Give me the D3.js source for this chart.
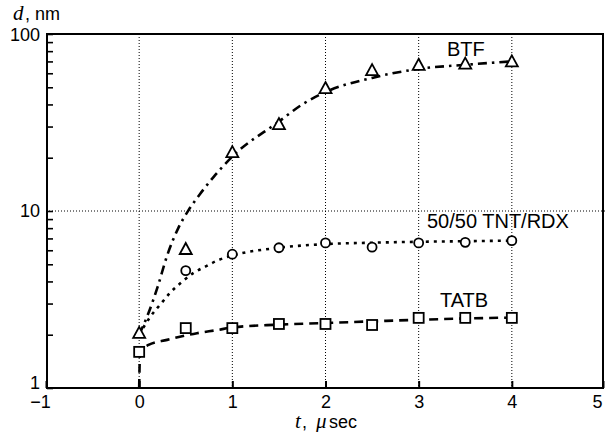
<!DOCTYPE html>
<html>
<head>
<meta charset="utf-8">
<script src="https://cdn.jsdelivr.net/npm/d3@7"></script>
<style>
    body { margin: 0; background: #fff; }
    .tick text { font-family: "Liberation Sans", Arial, sans-serif; font-size: 18px; }
    .grid line { stroke: #000; stroke-width: 1; stroke-dasharray: 1,2; }
    .fit { fill: none; stroke: #000; stroke-width: 2.6; }
    .mark { fill: #fff; stroke: #000; stroke-width: 1.8; }
    .label { font-family: "Liberation Sans", Arial, sans-serif; font-size: 20px; }
    .sans { font-family: "Liberation Sans", Arial, sans-serif; font-size: 18px; }
    .ital { font-family: "Liberation Serif", serif; font-style: italic; font-size: 21px; }
</style>
</head>
<body>
<div id="graph"></div>
<script>
/*
    d(t) on a log axis, three explosives
*/

// measured points
var btfT  = [0, 0.5, 1, 1.5, 2, 2.5, 3, 3.5, 4],
    btfD  = [2.05, 6.1, 21.5, 31, 49.5, 62.5, 67, 68, 70]
var tntT  = [0.5, 1, 1.5, 2, 2.5, 3, 3.5, 4],
    tntD  = [4.6, 5.7, 6.2, 6.6, 6.25, 6.6, 6.65, 6.8]
var tatbT = [0, 0.5, 1, 1.5, 2, 2.5, 3, 3.5, 4],
    tatbD = [1.6, 2.18, 2.18, 2.3, 2.3, 2.27, 2.49, 2.49, 2.49]

// fitted curves as [t, d]
var btfFit  = [[0, 2.0], [0.1, 2.65], [0.2, 3.75], [0.3, 5.6], [0.42, 8.0], [0.53, 10.1],
               [0.65, 12.4], [0.8, 15.6], [1, 20.3], [1.5, 32], [1.75, 40], [2, 47],
               [2.5, 56.5], [3, 63.5], [3.5, 67], [4, 70]]
var tntFit  = [[0, 2.0], [0.12, 2.53], [0.24, 3.02], [0.33, 3.44], [0.46, 3.98], [0.58, 4.46],
               [0.71, 4.85], [0.85, 5.28], [1, 5.6], [1.5, 6.2], [2, 6.5], [2.5, 6.62],
               [3, 6.7], [3.5, 6.75], [4, 6.8]]
var tatbFit = [[0, 1.0], [0.01, 1.6], [0.1, 1.75], [0.3, 1.87], [0.62, 2.04], [0.85, 2.13],
               [1, 2.2], [1.5, 2.28], [2, 2.33], [2.5, 2.38], [3, 2.43], [3.5, 2.47], [4, 2.5]]

var xTicks = [-1, 0, 1, 2, 3, 4, 5]
var yTicks = [1, 2, 3, 4, 5, 6, 7, 8, 9, 10, 20, 30, 40, 50, 60, 70, 80, 90, 100]
var yLabels = [1, 10, 100]

var width = 605, height = 432

var svg = d3.select("#graph").append("svg")
            .attr("width", width)
            .attr("height", height)

var x = d3.scaleLinear().domain([-1, 5]).range([46, 605]),
    y = d3.scaleLog().domain([1, 100]).range([388, 34])

// grid
var grid = svg.append("g").attr("class", "grid")
grid.selectAll("line.v")
    .data([0, 1, 2, 3, 4])
    .enter().append("line")
    .attr("x1", function(d) { return x(d) }).attr("x2", function(d) { return x(d) })
    .attr("y1", y(100)).attr("y2", y(1))
grid.append("line")
    .attr("x1", x(-1)).attr("x2", x(5))
    .attr("y1", y(10)).attr("y2", y(10))

// axes
var xAxis = svg.append("g")
    .attr("transform", "translate(0," + y(1) + ")")
    .call(d3.axisBottom(x).tickValues(xTicks).tickSize(-7).tickPadding(7)
            .tickFormat(function(d) { return d < 0 ? "\u22121" : d }))
xAxis.select(".domain").remove()
xAxis.selectAll(".tick line").attr("stroke-width", 2)
xAxis.selectAll(".tick text")
    .attr("dx", function(d) { return d == -1 ? -6 : (d == 5 ? -8 : 0) })

var yAxis = svg.append("g")
    .attr("transform", "translate(" + 47 + ",0)")
    .call(d3.axisLeft(y).tickValues(yTicks).tickSize(-6).tickPadding(7)
            .tickFormat(function(d) { return yLabels.indexOf(d) >= 0 ? d : "" }))
yAxis.select(".domain").remove()
yAxis.selectAll(".tick line").attr("stroke-width", 1.6)
yAxis.selectAll(".tick text")
    .attr("dy", function(d) { return d == 1 ? "0.0em" : (d == 100 ? "0.36em" : "0.28em") })

// frame
svg.append("rect")
    .attr("x", 47).attr("y", y(100))
    .attr("width", 603 - 47).attr("height", y(1) - y(100))
    .attr("fill", "none").attr("stroke", "#000").attr("stroke-width", 2)

// curves
var line = d3.line()
    .x(function(d) { return x(d[0]) })
    .y(function(d) { return y(d[1]) })
    .curve(d3.curveMonotoneX)

svg.append("path").attr("class", "fit").attr("d", line(btfFit))
    .attr("stroke-dasharray", "9,5,2.5,5")
svg.append("path").attr("class", "fit").attr("d", line(tntFit))
    .attr("stroke-dasharray", "3,5")
svg.append("path").attr("class", "fit").attr("d", line(tatbFit))
    .attr("stroke-dasharray", "9,6")

// markers
function pairs(ts, ds) {
    return ts.map(function(t, i) { return { t: t, d: ds[i] } })
}

svg.selectAll("path.tri")
    .data(pairs(btfT, btfD))
    .enter().append("path")
    .attr("class", "mark tri")
    .attr("transform", function(d) { return "translate(" + x(d.t) + "," + y(d.d) + ")" })
    .attr("d", "M0,-6L6,5H-6Z")

svg.selectAll("circle.circ")
    .data(pairs(tntT, tntD))
    .enter().append("circle")
    .attr("class", "mark circ")
    .attr("cx", function(d) { return x(d.t) })
    .attr("cy", function(d) { return y(d.d) })
    .attr("r", 4.5)

svg.selectAll("rect.sq")
    .data(pairs(tatbT, tatbD))
    .enter().append("rect")
    .attr("class", "mark sq")
    .attr("x", function(d) { return x(d.t) - 5 })
    .attr("y", function(d) { return y(d.d) - 5 })
    .attr("width", 10).attr("height", 10)

// series labels
svg.append("text").attr("class", "label").attr("x", 447).attr("y", 56).text("BTF")
svg.append("text").attr("class", "label").attr("x", 427).attr("y", 228).text("50/50 TNT/RDX")
svg.append("text").attr("class", "label").attr("x", 440).attr("y", 307).text("TATB")

// axis titles (pieces placed side by side)
svg.append("text").attr("class", "ital").attr("x", 13).attr("y", 19.5).text("d")
svg.append("text").attr("class", "sans").attr("x", 25).attr("y", 19.5).text(", nm")

svg.append("text").attr("class", "ital").attr("x", 295).attr("y", 428).text("t")
svg.append("text").attr("class", "sans").attr("x", 302).attr("y", 428).text(",")
svg.append("text").attr("class", "ital").attr("x", 316).attr("y", 428).text("\u03bc")
svg.append("text").attr("class", "sans").attr("x", 329).attr("y", 428).text("sec")
</script>
</body>
</html>
